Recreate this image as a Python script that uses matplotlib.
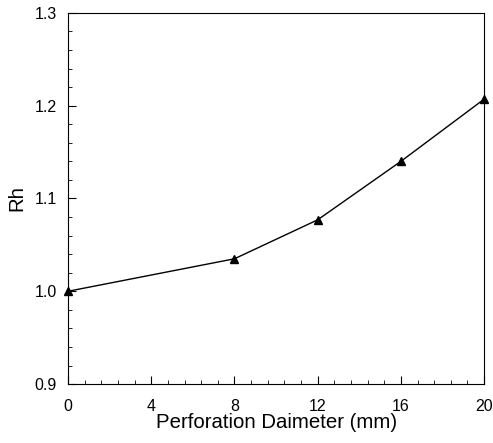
import matplotlib.pyplot as plt
from matplotlib.ticker import MultipleLocator

diameter = [0, 8, 12, 16, 20]
rh = [1.000, 1.035, 1.077, 1.140, 1.207]

plt.rcParams['font.family'] = ['Liberation Sans', 'DejaVu Sans']

fig = plt.figure(figsize=(4.93, 4.43), dpi=100)
ax = fig.add_axes([0.138, 0.133, 0.844, 0.838])

ax.plot(diameter, rh, '-^', color='black', linewidth=1.0, markersize=6, clip_on=False)

ax.set_xlim(0, 20)
ax.set_ylim(0.9, 1.3)
ax.xaxis.set_major_locator(MultipleLocator(4))
ax.xaxis.set_minor_locator(MultipleLocator(0.8))
ax.yaxis.set_major_locator(MultipleLocator(0.1))
ax.yaxis.set_minor_locator(MultipleLocator(0.02))
ax.yaxis.set_major_formatter(plt.FormatStrFormatter('%.1f'))

ax.tick_params(which='both', direction='in', top=False, right=False, labelsize=11.5)
ax.tick_params(which='major', length=6)
ax.tick_params(which='minor', length=3)
ax.tick_params(axis='x', pad=11)
ax.tick_params(axis='y', pad=8)

ax.set_xlabel('Perforation Daimeter (mm)', fontsize=14.7, labelpad=-1)
ax.set_ylabel('Rh', fontsize=14.7, labelpad=6)

fig.savefig('out.png', dpi=100)
